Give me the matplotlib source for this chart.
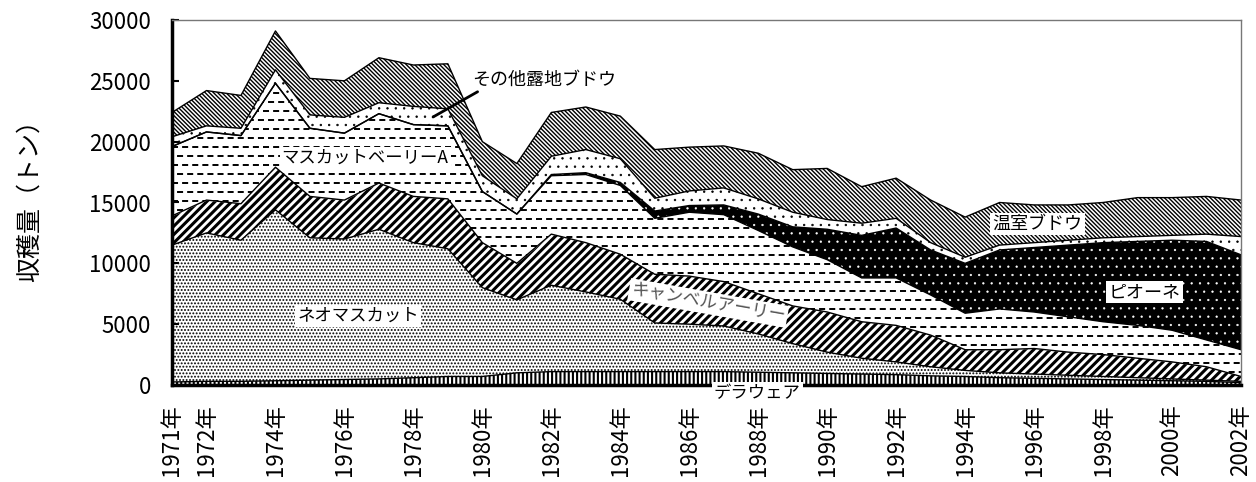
import numpy as np
import matplotlib
matplotlib.use("Agg")
import matplotlib.pyplot as plt

plt.rcParams['font.family'] = ['Noto Sans CJK JP', 'DejaVu Sans']

years = list(range(1971, 2003))
delaware = [250,300,300,350,400,450,500,600,700,700,1000,1100,1100,1100,1100,1100,1100,1050,1000,950,900,850,750,700,600,550,500,450,400,350,300,200]
neo_muscat = [11250,12200,11600,14050,11700,11550,12300,11100,10500,7300,6000,7100,6550,5950,4000,3900,3750,3150,2400,1750,1300,1050,750,500,400,350,300,250,200,150,100,100]
campbell = [2400,2700,3000,3500,3400,3200,3800,3800,4100,3700,3000,4200,4050,3700,4000,3950,3650,3300,3100,3300,3000,3000,2600,1700,1900,2100,1900,1800,1600,1400,1100,400]
bailey_a = [5700,5600,5600,6900,5600,5500,5700,5900,6000,4200,4050,4800,5600,5650,4600,5250,5500,5200,4850,4300,3600,3900,3300,3000,3350,3000,2900,2700,2700,2600,2200,2200]
pione = [0,0,0,0,0,0,0,0,0,0,0,100,150,250,600,550,800,1350,1650,2500,3500,4100,3700,4100,4850,5300,5900,6500,6900,7400,8100,7800]
other_open = [800,500,600,1100,1100,1300,900,1500,1400,1300,1250,1500,1900,1950,1050,1200,1400,1250,1200,800,1000,800,600,500,400,400,400,400,400,400,600,1500]
greenhouse = [2000,2900,2700,3200,3000,3000,3700,3400,3700,2800,2900,3600,3500,3500,4000,3600,3450,3750,3500,4200,3000,3300,3500,3300,3500,3100,2900,2900,3200,3100,3100,3000]

tick_years = [1971, 1972] + list(range(1974, 2003, 2))
tick_labels = [f"{y}年" for y in tick_years]
y_ticks = [0, 5000, 10000, 15000, 20000, 25000, 30000]

series = [delaware, neo_muscat, campbell, bailey_a, pione, other_open, greenhouse]
styles = [
    dict(fc='white', ec='black', hatch='||||', hlw=1.5),      # デラウェア
    dict(fc='white', ec='black', hatch='.....', hlw=0.9),     # ネオマスカット
    dict(fc='white', ec='black', hatch='////', hlw=2.2),      # キャンベル
    dict(fc='white', ec='black', hatch=None, hlw=1.0),        # ベーリーA (dashes drawn)
    dict(fc='black', ec='white', hatch='..', hlw=0.4),        # ピオーネ
    dict(fc='white', ec='black', hatch='..', hlw=0.5),        # その他露地
    dict(fc='white', ec='black', hatch='\\' * 8, hlw=1.0),    # 温室
]

fig = plt.figure(figsize=(12.56, 4.82), dpi=100)
ax = fig.add_axes([172/1256, 1-385/482, (1241-172)/1256, (385-20)/482])

x = np.array(years)
cum = np.zeros(len(years))
tops = []
for k, (vals, st) in enumerate(zip(series, styles)):
    lower = cum.copy()
    upper = cum + np.array(vals)
    with plt.rc_context({'hatch.linewidth': st['hlw']}):
        coll = ax.fill_between(x, lower, upper, facecolor=st['fc'], edgecolor=st['ec'],
                               hatch=st['hatch'], linewidth=0, zorder=1)
        if hasattr(coll, 'set_hatch_linewidth'):
            coll.set_hatch_linewidth(st['hlw'])
    if k == 3:
        path = coll.get_paths()[0]
        ys = np.arange(350, 30000, 740)
        for i, yv in enumerate(ys):
            ln, = ax.plot([1971, 2002], [yv, yv], color='black', lw=1.4,
                          linestyle=(0 if i % 2 == 0 else 2.6, (3.1, 2.1)), zorder=1.5)
            ln.set_clip_path(path, ax.transData)
    cum = upper
    tops.append(upper.copy())

for t in tops:
    ax.plot(x, t, color='black', lw=1.0, zorder=2)

ax.set_xlim(1971, 2002)
ax.set_ylim(0, 30000)
ax.set_xticks(tick_years)
ax.set_xticklabels(tick_labels, rotation=90, fontsize=16)
ax.set_yticks(y_ticks)
ax.set_yticklabels([str(v) for v in y_ticks], fontsize=16)
ax.tick_params(axis='y', direction='in', length=5, width=1.5, pad=15)
ax.tick_params(axis='x', length=0, pad=14)
for s in ['left', 'bottom']:
    ax.spines[s].set_linewidth(2.5)
    ax.spines[s].set_color('black')
for s in ['top', 'right']:
    ax.spines[s].set_linewidth(1.0)
    ax.spines[s].set_color('#777777')

fig.text(30/1256, 1-195/482, '収穫量（トン）', rotation=90, fontsize=18, ha='center', va='center')

box = dict(facecolor='white', edgecolor='none', pad=1.5)
ax.text(1976.4, 5670, 'ネオマスカット', fontsize=12.5, ha='center', va='center', bbox=box, zorder=5)
ax.text(1976.6, 18660, 'マスカットベーリーA', fontsize=12.5, ha='center', va='center', bbox=box, zorder=5)
ax.text(1986.55, 6740, 'キャンベルアーリー', fontsize=12.5, ha='center', va='center', rotation=-10,
        color='#555555', bbox=box, zorder=5)
ax.text(1987.97, -660, 'デラウェア', fontsize=12.5, ha='center', va='center', bbox=box, zorder=5, clip_on=False)
ax.text(1996.1, 13230, '温室ブドウ', fontsize=13, ha='center', va='center', bbox=box, zorder=5)
ax.text(1999.2, 7640, 'ピオーネ', fontsize=13, ha='center', va='center', bbox=box, zorder=5)
ax.annotate('その他露地ブドウ', xy=(1978.57, 22027), xytext=(1981.8, 25070), fontsize=13,
            ha='center', va='center', zorder=5,
            arrowprops=dict(arrowstyle='-', lw=2, color='black', shrinkA=0, shrinkB=0,
                            relpos=(0.07, 0.0)))

fig.savefig('out.png', dpi=100)
